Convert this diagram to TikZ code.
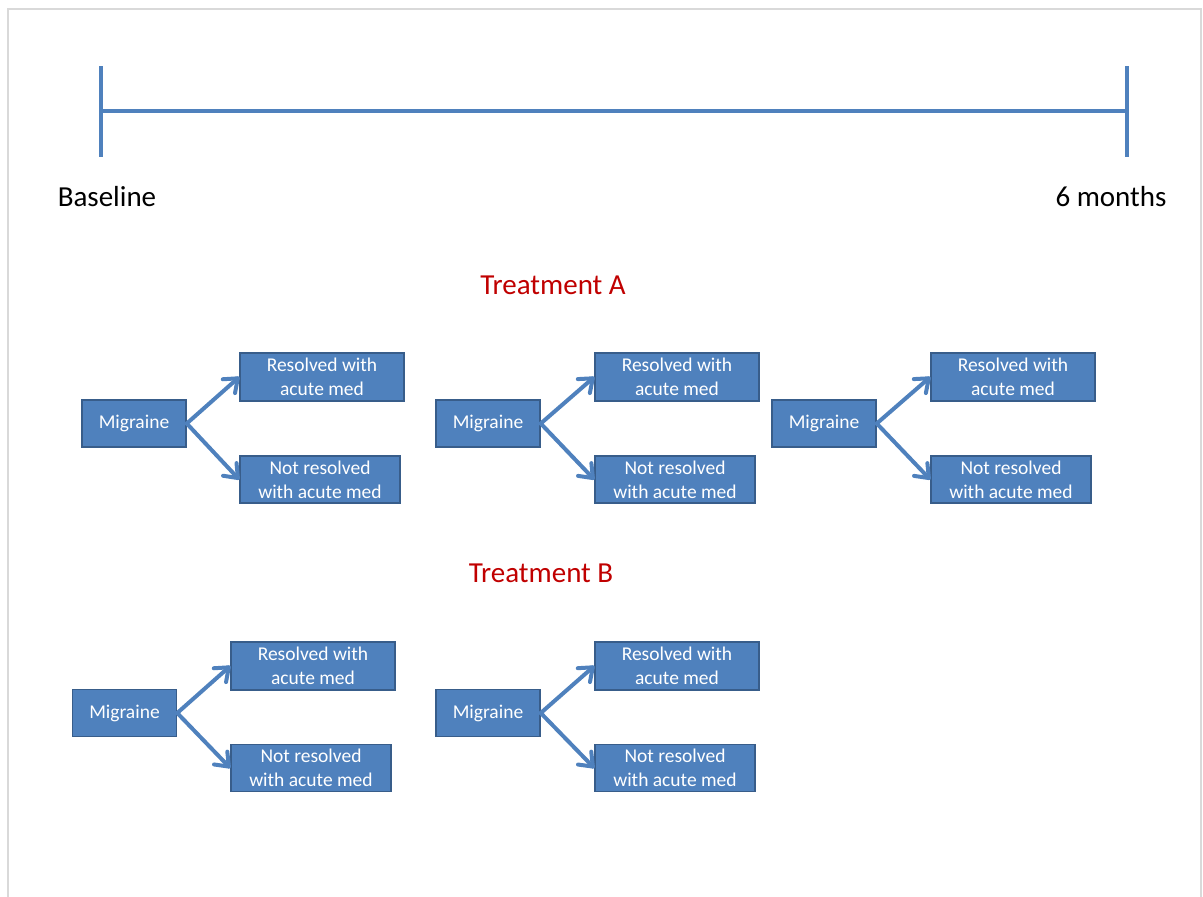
\documentclass[tikz,border=0pt]{standalone}
\usepackage{fontspec}
\setmainfont{Carlito}
\usetikzlibrary{calc}
\definecolor{accent}{HTML}{4F81BD}
\definecolor{accentdark}{HTML}{385D8A}
\definecolor{treatred}{HTML}{C00000}
\definecolor{framegray}{HTML}{D9D9D9}
\tikzset{
  box/.style={draw=accentdark, line width=1.5pt, fill=accent, text=white, align=center,
    inner sep=0pt, font=\fontsize{19.5}{24}\selectfont},
  mig/.style={box, minimum width=104pt, minimum height=47pt},
  res/.style={box, minimum width=164pt, minimum height=48pt},
  nres/.style={box, minimum width=160pt, minimum height=47pt},
  conn/.style={draw=accent, line width=4pt, line cap=round, line join=round},
  timeline/.style={draw=accent, line width=4.5pt},
  label/.style={font=\fontsize{29}{32}\selectfont},
  title/.style={font=\fontsize{29}{32}\selectfont, text=treatred}
}
\newcommand{\barbarrow}[2]{%
  \draw[conn] (#1) -- ($(#2)!2pt!(#1)$);
  \draw[conn] ($(#2)!2pt!(#1)$) ++(0,0) coordinate (tipc)
    ($(tipc)!15pt!38:(#1)$) -- (tipc) -- ($(tipc)!15pt!-38:(#1)$);
}
\begin{document}
\begin{tikzpicture}[x=1pt,y=-1pt]
\useasboundingbox (0,0) rectangle (1203,897);
\draw[framegray, line width=1.5pt] (8,897) -- (8,9) -- (1201,9) -- (1201,897);
% timeline
\coordinate (tl) at (101,66);
\coordinate (bl) at (101,157);
\coordinate (tr) at (1127,66);
\coordinate (br) at (1127,157);
\coordinate (ml) at (101,111);
\coordinate (mr) at (1127,111);
\draw[timeline] (tl) -- (bl);
\draw[timeline] (tr) -- (br);
\draw[timeline] (ml) -- (mr);
\node[label] (base) at (107,197) {Baseline};
\node[label] (six) at (1111,197) {6 months};
\node[title] (ta) at (553,285) {Treatment A};
\node[title] (tb) at (541,573) {Treatment B};
% Treatment A
\foreach \i/\mx/\rx/\nx in {1/134/322/320, 2/488/677/675, 3/824/1013/1011}{
  \node[mig] (m\i) at (\mx,423.5) {Migraine};
  \node[res] (r\i) at (\rx,377) {Resolved with\\acute med};
  \node[nres] (n\i) at (\nx,479.5) {Not resolved\\with acute med};
  \barbarrow{m\i.east}{r\i.west}
  \barbarrow{m\i.east}{n\i.west}
}
% Treatment B
\foreach \i/\mx/\rx/\nx in {4/124.5/313/311, 5/488/677/675}{
  \node[mig] (m\i) at (\mx,713) {Migraine};
  \node[res] (r\i) at (\rx,666) {Resolved with\\acute med};
  \node[nres] (n\i) at (\nx,768) {Not resolved\\with acute med};
  \barbarrow{m\i.east}{r\i.west}
  \barbarrow{m\i.east}{n\i.west}
}
\end{tikzpicture}
\end{document}
